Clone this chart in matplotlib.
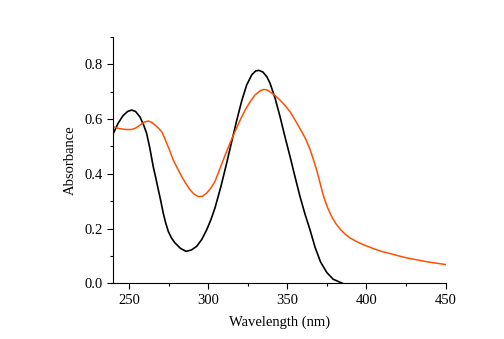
import numpy as np
from matplotlib import pyplot as plt
from matplotlib.ticker import MultipleLocator

plt.rcParams['font.family'] = ['Liberation Serif', 'DejaVu Serif']

# black spectrum
wl_black = [240, 243, 246, 249, 251.5, 254, 256.8, 259, 261, 263, 265.2, 266.8,
            268.4, 270, 271.5, 273, 274.7, 276.8, 278.9, 282.4, 285.9, 289.3,
            292.6, 295.8, 299, 301.6, 304.2, 307.9, 311.6, 314.8, 318, 321.2,
            324.3, 327.5, 330, 332, 334.5, 337, 339.1, 342.3, 345.4, 348.5, 351.7,
            354.8, 358, 361.2, 364.3, 367.5, 371, 374.9, 379, 383.4, 385]
abs_black = [0.548, 0.585, 0.612, 0.628, 0.633, 0.628, 0.608, 0.580, 0.548, 0.495,
             0.426, 0.385, 0.342, 0.300, 0.257, 0.222, 0.190, 0.165, 0.148, 0.128,
             0.117, 0.122, 0.135, 0.160, 0.196, 0.232, 0.275, 0.352, 0.439, 0.518,
             0.596, 0.668, 0.725, 0.762, 0.776, 0.778, 0.772, 0.755, 0.730, 0.675,
             0.608, 0.535, 0.463, 0.390, 0.317, 0.252, 0.196, 0.132, 0.078, 0.040,
             0.015, 0.004, 0.0]

# orange spectrum
wl_orange = [240, 244, 248, 251.5, 254, 256.8, 259.5, 262, 264.2, 266.3, 268.4,
             270.5, 272.1, 273.7, 275.8, 277.8, 280.5, 283.2, 285.8, 288.4, 291,
             293.7, 296.3, 299, 301.6, 304.2, 307.4, 310.5, 313.7, 317, 320.1,
             323.2, 326.4, 329.5, 332.7, 334.8, 337, 339.1, 342.3, 345.4, 348.5,
             351.7, 354.8, 358, 361.2, 364.3, 366.5, 368.6, 370.7, 372.3, 373.9,
             376, 378.1, 380.7, 383.4, 386.5, 389.7, 393.9, 399, 404.4, 409.5, 415,
             420, 425.6, 432, 438.2, 444, 450]
abs_orange = [0.572, 0.565, 0.562, 0.562, 0.567, 0.578, 0.589, 0.593, 0.588, 0.578,
              0.568, 0.554, 0.535, 0.512, 0.482, 0.451, 0.420, 0.390, 0.365, 0.342,
              0.326, 0.317, 0.318, 0.330, 0.348, 0.372, 0.420, 0.466, 0.512, 0.556,
              0.596, 0.632, 0.663, 0.688, 0.703, 0.708, 0.707, 0.699, 0.686, 0.669,
              0.650, 0.627, 0.597, 0.565, 0.532, 0.490, 0.451, 0.412, 0.366, 0.330,
              0.300, 0.269, 0.243, 0.218, 0.198, 0.180, 0.166, 0.152, 0.139, 0.127,
              0.117, 0.109, 0.101, 0.093, 0.086, 0.079, 0.074, 0.069]

fig = plt.figure(figsize=(5.04, 3.39), dpi=100)
ax = fig.add_axes([0.225, 0.164, 0.659, 0.727])
ax.plot(wl_black, abs_black, color='black', lw=1.2)
ax.plot(wl_orange, abs_orange, color='#ff4f00', lw=1.1)

ax.set_xlim(240, 450)
ax.set_ylim(0, 0.9)
ax.xaxis.set_major_locator(MultipleLocator(50))
ax.xaxis.set_minor_locator(MultipleLocator(25))
ax.yaxis.set_major_locator(MultipleLocator(0.2))
ax.yaxis.set_minor_locator(MultipleLocator(0.1))
ax.yaxis.set_major_formatter(plt.FuncFormatter(lambda v, p: f'{v:.1f}'))
ax.tick_params(which='both', direction='out', labelsize=10.5, width=0.8)
ax.tick_params(which='major', length=4)
ax.tick_params(which='minor', length=2.5)
for s in ['top', 'right']:
    ax.spines[s].set_visible(False)
ax.set_xlabel('Wavelength (nm)', fontsize=10.5, labelpad=6)
ax.set_ylabel('Absorbance', fontsize=10.5, labelpad=6)

fig.savefig('out.png', dpi=100)
